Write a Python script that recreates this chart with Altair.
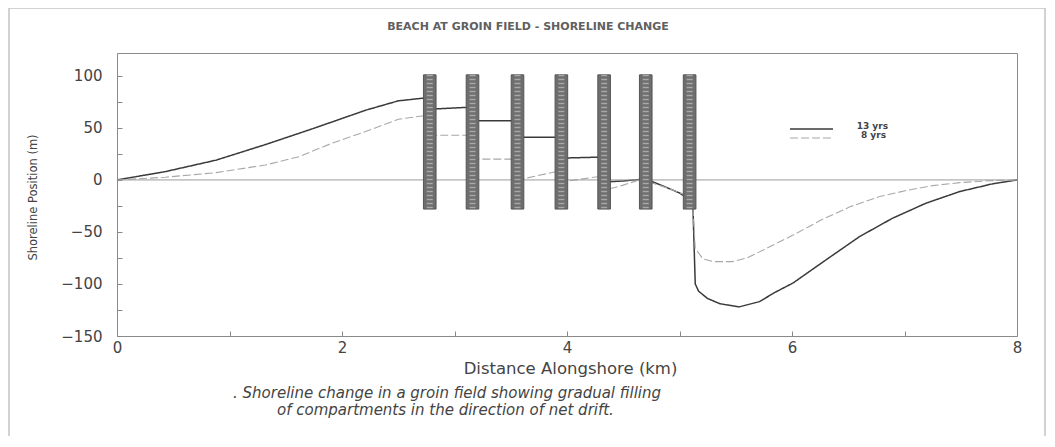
import altair as alt
import pandas as pd

# ---------------- data ----------------
# 13-year shoreline (solid)
yr13_km = [0, 0.43, 0.88, 1.32, 1.76, 2.21, 2.50, 2.71, 2.78,
           2.78, 3.16,
           3.16, 3.56,
           3.56, 3.95,
           3.95, 4.33,
           4.33, 4.50, 4.70,
           4.70, 4.88, 5.00, 5.09, 5.12, 5.14, 5.17, 5.25, 5.36, 5.53,
           5.71, 5.85, 6.01, 6.30, 6.60, 6.89, 7.19, 7.49, 7.78, 8.00]
yr13_m = [0, 8, 19, 34, 50, 67, 76, 78.5, 79,
          68, 70,
          57, 57,
          41, 41,
          21, 22,
          -2, -1, 1,
          1, -7, -12.5, -19, -28, -100, -107, -114, -119, -122,
          -117, -108, -99, -77, -54.5, -37, -22.4, -11.2, -3.8, 0]

# 8-year shoreline (dashed)
yr8_km = [0, 0.43, 0.88, 1.32, 1.62, 1.91, 2.21, 2.50, 2.71, 2.78,
          2.78, 3.16,
          3.16, 3.56,
          3.56, 3.95,
          3.95, 4.33,
          4.33, 4.50, 4.70,
          4.70, 4.90, 5.09, 5.12, 5.14, 5.21, 5.30, 5.47, 5.60,
          5.75, 6.01, 6.25, 6.52, 6.78, 7.04, 7.25, 7.49, 7.75, 8.00]
yr8_m = [0, 2.6, 7, 14.4, 22.4, 35.3, 46.5, 58.3, 61.5, 62,
         43, 43,
         20, 20,
         0, 9,
         -2, 4,
         -10, -5, 2,
         -1, -8, -16, -28, -66, -76, -78.5, -78.5, -75,
         -67, -53, -39, -25.6, -16, -9.6, -5.5, -2.6, -0.8, 0]

series_names = ["13 yrs", "8 yrs"]

# groins
groin_km = [2.78, 3.16, 3.56, 3.95, 4.33, 4.70, 5.09]
groin_top = [101, 101, 101, 101, 101, 101, 101]
groin_bottom = [-28, -28, -28, -28, -28, -28, -28]

zero_level = [0]

x_ticks = [0, 1, 2, 3, 4, 5, 6, 7, 8]
y_ticks = [-150, -125, -100, -75, -50, -25, 0, 25, 50, 75, 100]

title_text = ["BEACH AT GROIN FIELD - SHORELINE CHANGE"]
caption_lines = [". Shoreline change in a groin field showing gradual filling",
                 "of compartments in the direction of net drift."]
x_title = "Distance Alongshore (km)"
y_title = "Shoreline Position (m)"

# ---------------- styling ----------------
FONT = "DejaVu Sans"
TXT = "#444444"
GROIN_HALF_W = 0.056
W, H = 900, 283

rows = []
for i, (k, m) in enumerate(zip(yr13_km, yr13_m)):
    rows.append({"series": series_names[0], "km": k, "m": m, "i": i})
for i, (k, m) in enumerate(zip(yr8_km, yr8_m)):
    rows.append({"series": series_names[1], "km": k, "m": m, "i": i})
line_df = pd.DataFrame(rows)

groin_df = pd.DataFrame({"gx": groin_km, "top": groin_top, "bottom": groin_bottom})

x_scale = alt.Scale(domain=[0, 8], nice=False, zero=False)
y_scale = alt.Scale(domain=[-150, 122], nice=False, zero=False)

x_axis = alt.Axis(values=x_ticks,
                  labelExpr="datum.value % 2 === 0 ? datum.label : ''",
                  offset=-5, tickSize=5, domain=False, grid=False,
                  labelPadding=4, labelFlush=False, labelOverlap=False,
                  labelFont=FONT, labelFontSize=15, labelColor=TXT,
                  tickColor="#888888",
                  title=x_title, titleFont=FONT, titleFontSize=16.5,
                  titleFontWeight="normal", titleColor=TXT,
                  titleX=453, titleY=37, titleBaseline="middle")
y_axis = alt.Axis(values=y_ticks,
                  labelExpr="datum.value % 50 === 0 ? datum.label : ''",
                  offset=-5, tickSize=5, domain=False, grid=False,
                  labelPadding=15, labelOverlap=False,
                  labelFont=FONT, labelFontSize=15, labelColor=TXT,
                  tickColor="#888888",
                  title=y_title, titleFont=FONT, titleFontSize=11.5,
                  titleFontWeight="normal", titleColor=TXT,
                  titleX=-89, titleY=144, titleBaseline="middle")

one = pd.DataFrame({"a": [0]})

border = alt.Chart(one).mark_rect(fill="white", fillOpacity=0, stroke="#c4c4c4",
                                  strokeWidth=1.5).encode(
    x=alt.value(-108), x2=alt.value(928), y=alt.value(-45), y2=alt.value(389))

lines = alt.Chart(line_df).mark_line(interpolate="linear").encode(
    x=alt.X("km:Q", scale=x_scale, axis=x_axis),
    y=alt.Y("m:Q", scale=y_scale, axis=y_axis),
    order=alt.Order("i:Q"),
    color=alt.Color("series:N", scale=alt.Scale(domain=series_names,
                                                range=["#3a3a3a", "#a8a8a8"]),
                    legend=None),
    strokeDash=alt.StrokeDash("series:N", scale=alt.Scale(domain=series_names,
                                                          range=[[1, 0], [8, 3]]),
                              legend=None),
    strokeWidth=alt.StrokeWidth("series:N", scale=alt.Scale(domain=series_names,
                                                            range=[1.5, 1.1]),
                                legend=None),
)

zero_rule = alt.Chart(pd.DataFrame({"z": zero_level})).mark_rule(
    color="#9a9a9a", strokeWidth=1).encode(
    y=alt.Y("z:Q", scale=y_scale, axis=y_axis))

groins = alt.Chart(groin_df).transform_calculate(
    x1=f"datum.gx - {GROIN_HALF_W}", x2=f"datum.gx + {GROIN_HALF_W}"
).mark_rect(fill="#6e6e6e", stroke="#555555", strokeWidth=1).encode(
    x=alt.X("x1:Q", scale=x_scale, axis=x_axis),
    x2="x2:Q",
    y=alt.Y("top:Q", scale=y_scale, axis=y_axis),
    y2="bottom:Q",
)

groin_tex = alt.Chart(groin_df).mark_rule(color="#a8a8a8", strokeWidth=6,
                                          strokeDash=[1.5, 2.5]).encode(
    x=alt.X("gx:Q", scale=x_scale, axis=x_axis),
    y=alt.Y("top:Q", scale=y_scale, axis=y_axis),
    y2="bottom:Q",
)

leg_solid = alt.Chart(pd.DataFrame({"s": [series_names[0]]})).mark_rule(
    color="#3a3a3a", strokeWidth=1.4).encode(
    x=alt.value(673), x2=alt.value(716), y=alt.value(76))
leg_dash = alt.Chart(pd.DataFrame({"s": [series_names[1]]})).mark_rule(
    color="#a8a8a8", strokeWidth=1.1, strokeDash=[8, 3]).encode(
    x=alt.value(673), x2=alt.value(716), y=alt.value(85))
leg_t1 = alt.Chart(pd.DataFrame({"s": [series_names[0]]})).mark_text(
    align="right", baseline="middle", font=FONT, fontSize=9, fontWeight="bold",
    color=TXT).encode(x=alt.value(771), y=alt.value(73), text="s:N")
leg_t2 = alt.Chart(pd.DataFrame({"s": [series_names[1]]})).mark_text(
    align="right", baseline="middle", font=FONT, fontSize=9, fontWeight="bold",
    color=TXT).encode(x=alt.value(769), y=alt.value(82), text="s:N")

title = alt.Chart(pd.DataFrame({"t": title_text})).mark_text(
    align="center", baseline="middle", font=FONT, fontSize=11, fontWeight="bold",
    color="#606060").encode(x=alt.value(411), y=alt.value(-26), text="t:N")

cap1 = alt.Chart(pd.DataFrame({"t": [caption_lines[0]]})).mark_text(
    align="left", baseline="middle", font=FONT, fontSize=15, fontStyle="italic",
    color=TXT).encode(x=alt.value(116), y=alt.value(340), text="t:N")
cap2 = alt.Chart(pd.DataFrame({"t": [caption_lines[1]]})).mark_text(
    align="left", baseline="middle", font=FONT, fontSize=15, fontStyle="italic",
    color=TXT).encode(x=alt.value(160), y=alt.value(357), text="t:N")

chart = alt.layer(
    lines, border, zero_rule, groins, groin_tex,
    leg_solid, leg_dash, leg_t1, leg_t2, title, cap1, cap2
).properties(
    width=W, height=H,
    autosize=alt.AutoSizeParams(type="none"),
    padding={"left": 109, "top": 45, "right": 30, "bottom": 100},
    background="white",
).configure_view(stroke="#8a8a8a", strokeWidth=1)

chart.save("out.html", embed_options={"renderer": "svg", "actions": False})
